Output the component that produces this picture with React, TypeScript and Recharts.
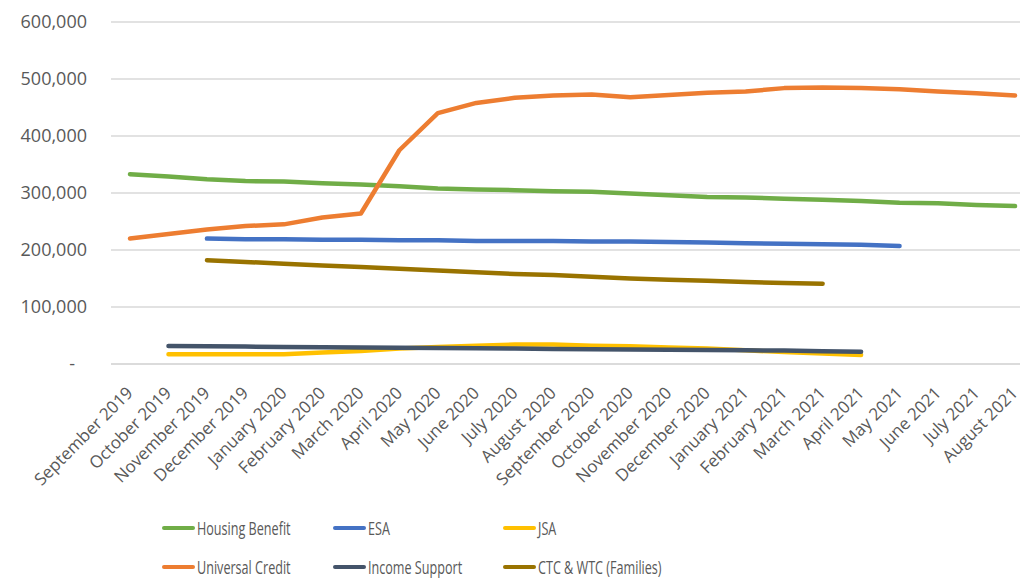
import React from "react";
import { LineChart, Line, XAxis, YAxis, CartesianGrid, Legend } from "recharts";

// months on the x axis
const months = [
  "September 2019", "October 2019", "November 2019", "December 2019",
  "January 2020", "February 2020", "March 2020", "April 2020", "May 2020",
  "June 2020", "July 2020", "August 2020", "September 2020", "October 2020",
  "November 2020", "December 2020", "January 2021", "February 2021",
  "March 2021", "April 2021", "May 2021", "June 2021", "July 2021", "August 2021",
];

const housingBenefit = [
  333000, 329000, 324000, 321000, 320000, 317000, 315000, 312000, 308000, 306000,
  305000, 303000, 302000, 299000, 296000, 293000, 292000, 290000, 288000, 286000,
  283000, 282000, 279000, 277000,
];
const esa = [
  null, null, 220000, 219000, 219000, 218000, 218000, 217000, 217000, 216000,
  216000, 216000, 215000, 215000, 214000, 213000, 212000, 211000, 210000, 209000,
  207000, null, null, null,
];
const jsa = [
  null, 17000, 17000, 17000, 17000, 20000, 23000, 27000, 30000, 32000,
  34000, 34000, 32000, 31000, 29000, 27000, 24000, 21000, 18500, 16000,
  null, null, null, null,
];
const universalCredit = [
  220000, 228000, 236000, 242000, 245000, 257000, 264000, 375000, 440000, 458000,
  467000, 471000, 473000, 468000, 472000, 476000, 478000, 484000, 485000, 484000,
  482000, 478000, 475000, 471000,
];
const incomeSupport = [
  null, 31500, 31000, 30500, 30000, 29500, 29000, 28500, 28000, 27500,
  27000, 26500, 26000, 25500, 25000, 24500, 24000, 23500, 22500, 21600,
  null, null, null, null,
];
const ctcWtc = [
  null, null, 182000, 179000, 176000, 173000, 170000, 167000, 164000, 161000,
  158000, 156000, 153000, 150000, 148000, 146000, 144000, 142000, 141000, null,
  null, null, null, null,
];

const yTicks = [0, 100000, 200000, 300000, 400000, 500000, 600000];

const series = [
  { key: "Housing Benefit", values: housingBenefit, color: "#70AD47" },
  { key: "ESA", values: esa, color: "#4472C4" },
  { key: "JSA", values: jsa, color: "#FFC000" },
  { key: "Universal Credit", values: universalCredit, color: "#ED7D31" },
  { key: "Income Support", values: incomeSupport, color: "#44546A" },
  { key: "CTC & WTC (Families)", values: ctcWtc, color: "#997300" },
];

const data = months.map((m, i) => {
  const row: Record<string, string | number | null> = { month: m };
  series.forEach((s) => (row[s.key] = s.values[i]));
  return row;
});

const FONT = "'Open Sans', 'Noto Sans', sans-serif";
const TEXT = "#595959";

const YTick = ({ x, y, payload }: any) => {
  const v = payload.value as number;
  return (
    <text x={x} y={y} dy={6} dx={v === 0 ? -28 : -16} textAnchor="end" fill={TEXT} fontSize={18} fontFamily={FONT}>
      {v === 0 ? "-" : v.toLocaleString("en-US")}
    </text>
  );
};

const XTick = ({ x, y, payload }: any) => {
  const ax = x + 4;
  const ay = y + 22;
  return (
    <text x={ax} y={ay} textAnchor="end" fill={TEXT} fontSize={17} fontFamily={FONT}
      transform={`rotate(-45, ${ax}, ${ay})`}>
      {payload.value}
    </text>
  );
};

const legendCols = [162, 333, 503];
const renderLegend = () => (
  <div style={{ position: "relative", width: 1022, height: 70 }}>
    {series.map((s, i) => {
      const col = i % 3;
      const row = Math.floor(i / 3);
      return (
        <div key={s.key} style={{
          position: "absolute", left: legendCols[col], top: row * 39 + 8,
          height: 24, display: "flex", alignItems: "center", whiteSpace: "nowrap",
        }}>
          <span style={{ display: "inline-block", width: 33, height: 4.5, borderRadius: 3, background: s.color, marginRight: 2 }} />
          <span style={{
            display: "inline-block", fontFamily: FONT, fontSize: 18, color: TEXT,
            transform: "scaleX(0.7)", transformOrigin: "left center",
          }}>{s.key}</span>
        </div>
      );
    })}
  </div>
);

export default function App() {
  return (
    <div style={{ position: "absolute", left: 0, top: 0, width: 1022, height: 579, background: "#fff" }}>
      <LineChart width={1022} height={579} data={data} margin={{ top: 22, right: 2, bottom: 85, left: 0 }}>
        <CartesianGrid vertical={false} stroke="#d9d9d9" strokeWidth={1.3} />
        <XAxis dataKey="month" interval={0} height={130} tickLine={false}
          axisLine={{ stroke: "#d9d9d9", strokeWidth: 1.3 }} padding={{ left: 19, right: 5 }}
          tick={<XTick />} />
        <YAxis width={111} domain={[0, 600000]} ticks={yTicks} tickLine={false} axisLine={false}
          tick={<YTick />} />
        <Legend layout="horizontal" verticalAlign="middle" align="center"
          wrapperStyle={{ left: 0, top: 508, width: 1022, height: 70 }} content={renderLegend} />
        {series.map((s) => (
          <Line key={s.key} type="linear" dataKey={s.key} stroke={s.color} strokeWidth={4.5}
            strokeLinecap="round" strokeLinejoin="round" dot={false} isAnimationActive={false} />
        ))}
      </LineChart>
    </div>
  );
}
